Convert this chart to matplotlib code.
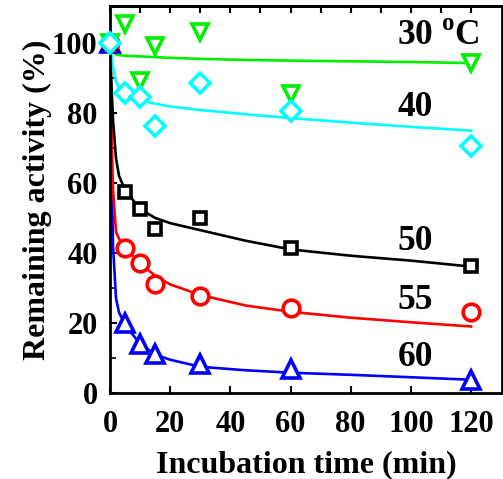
import matplotlib
matplotlib.use("Agg")
import matplotlib.pyplot as plt
import numpy as np

plt.rcParams['font.family'] = ['Liberation Serif', 'DejaVu Serif']
plt.rcParams['font.weight'] = 'bold'
plt.rcParams['mathtext.fontset'] = 'custom'
plt.rcParams['mathtext.rm'] = 'Liberation Serif:bold'
plt.rcParams['mathtext.bf'] = 'Liberation Serif:bold'

# measured points
t = [0, 5, 10, 15, 30, 60, 120]
a30 = [100, 105.5, 89, 99, 103, 85.5, 94.2]
a40 = [100, 85.8, 84.5, 76.3, 88.5, 80.4, 70.4]
a50 = [100, 57.5, 52.5, 46.7, 50.1, 41.5, 36.4]
a55 = [100, 41.3, 37, 31, 27.8, 24.4, 23]
a60 = [100, 20.1, 14, 11.1, 8.2, 7, 3.7]

# fitted curves
fit_t = [0, 0.5, 1, 2, 3, 5, 10, 15, 20, 30, 45, 60, 80, 100, 120]
f30 = [100, 98.5, 97.3, 96.7, 96.5, 96.3, 96.1, 95.9, 95.7, 95.4, 95.1, 94.9, 94.7, 94.5, 94.2]
f40 = [100, 96, 93, 89, 87, 85.3, 83.6, 82.6, 81.8, 80.8, 79.6, 78.5, 77.2, 76, 74.9]
f50 = [100, 88, 78, 67, 62, 58, 52.5, 50, 48.5, 46.5, 43.5, 41, 39.2, 37.8, 36.1]
f55 = [100, 75, 58, 46, 44, 41.5, 37, 33.5, 31, 28, 25, 23.2, 21.5, 20.2, 19]
f60 = [100, 65, 42, 27, 23, 19.5, 14, 11, 9.5, 7.5, 6.5, 5.8, 5.2, 4.5, 3.8]

labels = ['30 $^{\\mathrm{o}}$C', '40', '50', '55', '60']
label_y = [101.7, 81.4, 43.4, 26.3, 10.1]

fig = plt.figure(figsize=(5.03, 4.79), dpi=100)
ax = fig.add_axes([0.2187, 0.1795, 0.7793, 0.808])

series = [
    (a60, f60, 'blue', '^', 13),
    (a55, f55, 'red', 'o', 12),
    (a50, f50, 'black', 's', 9),
    (a30, f30, '#00ee00', 'v', 12),
    (a40, f40, 'cyan', 'D', 10),
]
for a, f, c, m, ms in series:
    ax.plot(fit_t, f, color=c, lw=1.9)
    ax.plot(t, a, ls='none', marker=m, ms=ms, mfc='white', mec=c, mew=2.6,
            clip_on=False, zorder=3)

for s, y in zip(labels, label_y):
    ax.text(95.5, y, s, fontsize=25.5, fontweight='bold', ha='left', va='center')

ax.set_xlim(0, 130.3)
ax.set_ylim(0, 110.5)
ax.set_xticks([0, 20, 40, 60, 80, 100, 120])
ax.set_yticks([0, 20, 40, 60, 80, 100])
ax.set_yticks(np.arange(0, 110, 10), minor=True)

ax.tick_params(axis='both', which='both', direction='in', labelsize=22)
ax.tick_params(axis='both', which='major', length=5, width=1.5)
ax.tick_params(axis='both', which='minor', length=4, width=1.2)
ax.tick_params(axis='x', which='minor', bottom=False)
ax.tick_params(axis='x', pad=12)
ax.tick_params(axis='y', pad=9)

# top ticks every 10
top = ax.secondary_xaxis('top')
top.set_xticks(np.arange(0, 130, 10))
top.tick_params(direction='in', length=5, width=1.5, labeltop=False)

for sp in ax.spines.values():
    sp.set_linewidth(2)
top.spines['top'].set_linewidth(2)

ax.set_xlabel('Incubation time (min)', fontsize=23, fontweight='bold', labelpad=8)
ax.set_ylabel('Remaining activity (%)', fontsize=23, fontweight='bold', labelpad=0)

fig.savefig('out.png', dpi=100)
